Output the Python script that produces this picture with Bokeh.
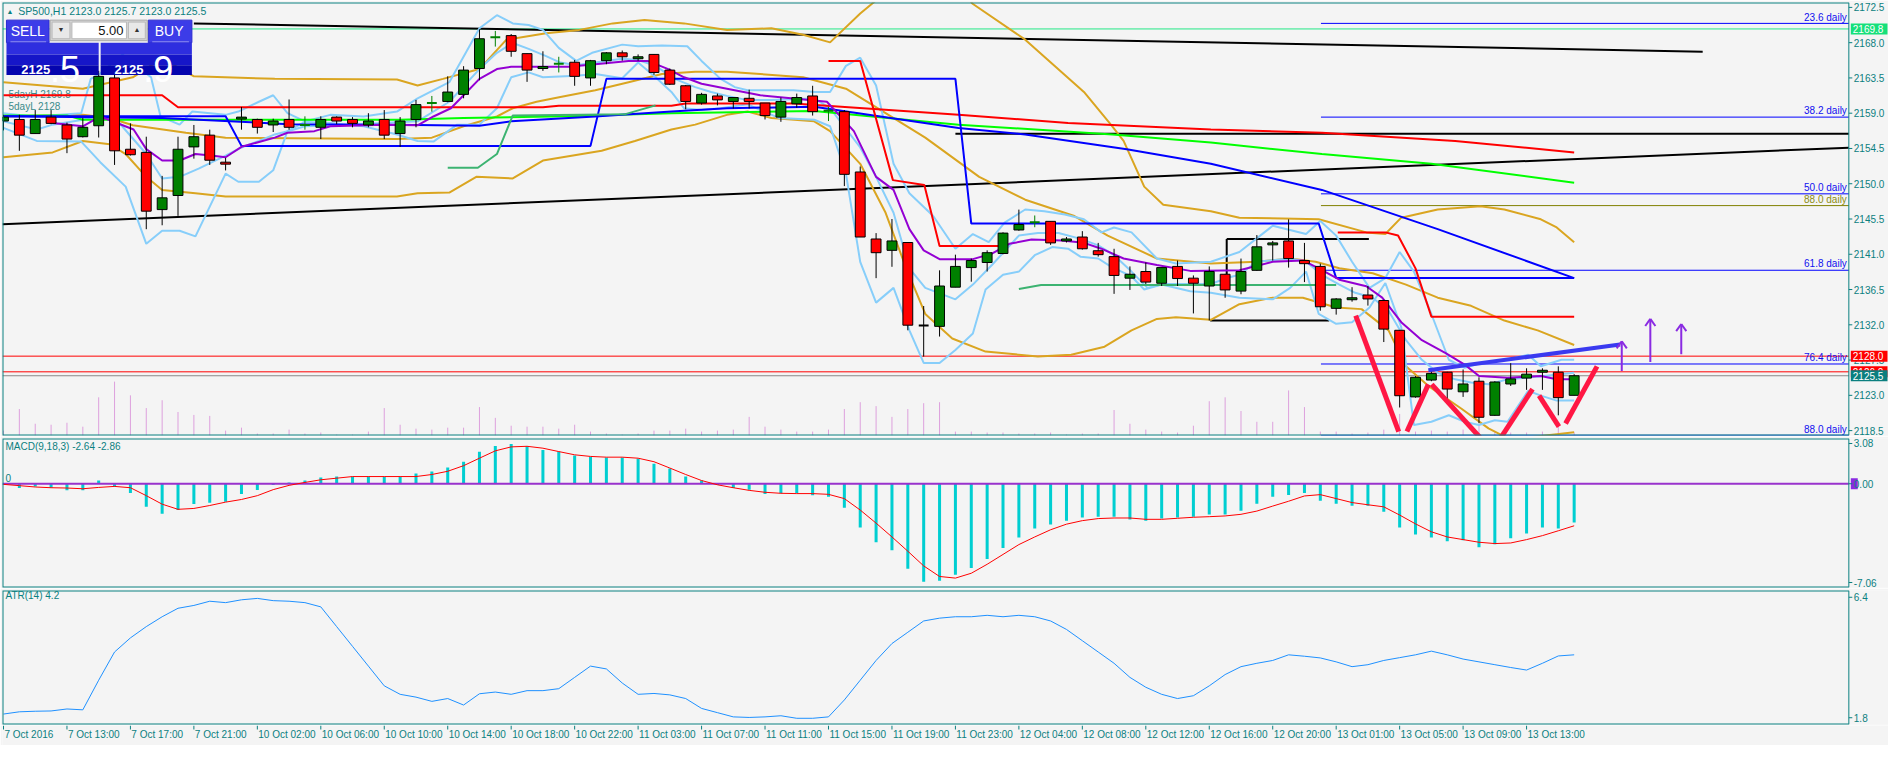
import numpy as np
from bokeh.plotting import figure
from bokeh.layouts import column
from bokeh.models import Range1d, BoxAnnotation, Label
from bokeh.core.properties import value
from bokeh.embed import file_html
from bokeh.resources import INLINE

# ------------------------------------------------------------------ data
tick_labels = ["7 Oct 2016", "7 Oct 13:00", "7 Oct 17:00", "7 Oct 21:00", "10 Oct 02:00",
               "10 Oct 06:00", "10 Oct 10:00", "10 Oct 14:00", "10 Oct 18:00", "10 Oct 22:00",
               "11 Oct 03:00", "11 Oct 07:00", "11 Oct 11:00", "11 Oct 15:00", "11 Oct 19:00",
               "11 Oct 23:00", "12 Oct 04:00", "12 Oct 08:00", "12 Oct 12:00", "12 Oct 16:00",
               "12 Oct 20:00", "13 Oct 01:00", "13 Oct 05:00", "13 Oct 09:00", "13 Oct 13:00"]

price_ticks = [2118.5, 2123.0, 2127.5, 2132.0, 2136.5, 2141.0, 2145.5, 2150.0, 2154.5, 2159.0,
               2163.5, 2168.0, 2172.5]
macd_ticks = [-6.72, 0.0, 2.74]
macd_tick_labels = ["-7.06", "0.00", "3.08"]
atr_ticks = [1.97, 6.24]
atr_tick_labels = ["1.8", "6.4"]

open_ = [2158.0, 2158.2, 2156.4, 2158.5, 2157.5, 2156.0, 2157.4, 2163.5, 2154.4, 2154.0,
         2146.7, 2148.5, 2154.7, 2156.2, 2152.75, 2158.25, 2158.2, 2157.5, 2158.2, 2157.5,
         2157.2, 2158.5, 2158.2, 2157.5, 2158.2, 2156.4, 2158.2, 2160.3, 2160.5, 2161.4,
         2164.7, 2168.7, 2168.9, 2166.6, 2164.7, 2165.3, 2165.5, 2163.5, 2165.7, 2166.7,
         2165.95, 2166.5, 2164.5, 2162.5, 2160.3, 2161.2, 2160.5, 2160.9, 2160.3, 2158.5,
         2160.2, 2161.2, 2159.3, 2159.2, 2151.5, 2142.95, 2141.5, 2142.5, 2131.9, 2131.8,
         2136.8, 2139.3, 2139.95, 2141.1, 2144.1, 2145.1, 2145.2, 2142.7, 2143.2, 2141.45,
         2140.7, 2137.95, 2138.8, 2137.3, 2139.45, 2137.95, 2136.95, 2138.45, 2136.3, 2138.95,
         2142.2, 2142.7, 2140.2, 2139.45, 2134.1, 2135.2, 2135.8, 2135.1, 2131.3, 2122.8,
         2124.95, 2125.95, 2123.45, 2124.8, 2120.45, 2124.45, 2125.2, 2125.95, 2125.95, 2123.0]
close_ = [2158.5, 2156.2, 2158.2, 2157.7, 2155.7, 2157.2, 2163.7, 2154.2, 2153.7, 2146.5,
          2148.2, 2154.4, 2156.0, 2153.0, 2152.5, 2158.5, 2157.2, 2158.0, 2157.2, 2157.5,
          2158.2, 2158.0, 2157.7, 2158.0, 2156.2, 2158.0, 2160.1, 2160.3, 2161.7, 2164.5,
          2168.5, 2168.7, 2166.9, 2164.5, 2164.95, 2165.3, 2163.7, 2165.7, 2166.7, 2166.2,
          2166.2, 2164.2, 2162.7, 2160.5, 2161.4, 2160.7, 2161.0, 2160.5, 2158.7, 2160.5,
          2161.0, 2159.2, 2159.3, 2151.2, 2143.2, 2141.2, 2142.7, 2131.95, 2131.9, 2136.95,
          2139.45, 2140.2, 2141.2, 2143.7, 2144.8, 2145.1, 2142.45, 2142.95, 2141.7, 2140.95,
          2138.3, 2138.45, 2137.45, 2139.3, 2137.9, 2137.3, 2138.8, 2136.45, 2138.8, 2141.95,
          2142.45, 2140.45, 2139.8, 2134.3, 2135.3, 2135.45, 2135.3, 2131.45, 2122.95, 2125.3,
          2125.8, 2123.8, 2124.45, 2120.2, 2124.7, 2125.1, 2125.7, 2126.2, 2122.7, 2125.5]
high_ = [2158.8, 2158.8, 2159.4, 2159.4, 2157.8, 2158.4, 2164.4, 2164.2, 2157.7, 2156.0,
         2151.0, 2156.0, 2157.5, 2156.9, 2153.3, 2159.8, 2158.3, 2158.3, 2160.75, 2158.6,
         2158.6, 2158.6, 2158.5, 2159.0, 2159.4, 2158.5, 2160.7, 2161.2, 2163.7, 2165.0,
         2169.7, 2169.5, 2169.1, 2166.6, 2166.9, 2166.2, 2165.8, 2165.8, 2166.8, 2167.0,
         2166.5, 2166.5, 2164.7, 2162.6, 2161.6, 2161.5, 2161.0, 2162.0, 2160.3, 2161.0,
         2161.5, 2162.5, 2159.8, 2159.4, 2152.2, 2143.7, 2145.5, 2142.5, 2134.4, 2138.95,
         2140.95, 2140.45, 2141.5, 2143.8, 2146.7, 2145.95, 2145.2, 2143.2, 2143.95, 2142.45,
         2141.7, 2139.45, 2139.95, 2139.3, 2140.2, 2138.3, 2139.45, 2138.5, 2140.45, 2143.45,
         2142.7, 2145.45, 2142.45, 2139.8, 2135.4, 2136.8, 2136.95, 2135.2, 2131.3, 2125.45,
         2126.3, 2126.0, 2126.3, 2125.3, 2124.8, 2127.1, 2126.45, 2126.45, 2126.7, 2125.7]
low_ = [2156.8, 2154.2, 2156.4, 2157.6, 2153.9, 2155.9, 2155.9, 2152.4, 2153.6, 2144.2,
        2144.7, 2145.9, 2153.2, 2152.4, 2151.7, 2156.9, 2156.4, 2156.6, 2156.9, 2156.9,
        2155.7, 2157.6, 2157.2, 2157.2, 2155.7, 2154.7, 2157.2, 2159.2, 2160.4, 2160.9,
        2163.2, 2167.5, 2166.2, 2163.0, 2164.4, 2164.2, 2162.5, 2162.5, 2165.25, 2165.7,
        2165.7, 2163.9, 2162.6, 2159.5, 2160.1, 2160.0, 2159.6, 2159.6, 2158.2, 2157.9,
        2159.7, 2158.7, 2158.0, 2149.7, 2143.2, 2137.95, 2139.4, 2131.3, 2127.95, 2130.5,
        2136.8, 2137.5, 2138.8, 2141.0, 2144.0, 2144.45, 2142.2, 2142.5, 2141.6, 2140.7,
        2135.95, 2136.45, 2137.2, 2136.95, 2136.95, 2133.45, 2132.55, 2135.45, 2135.9, 2138.9,
        2140.2, 2139.3, 2137.45, 2133.8, 2133.3, 2134.95, 2134.45, 2129.8, 2121.45, 2122.7,
        2124.8, 2122.45, 2122.8, 2119.45, 2120.4, 2124.2, 2123.7, 2123.7, 2120.45, 2123.0]
cross_bars = [19, 27, 31, 35, 52, 65]

volume = [500, 2700, 1200, 1100, 1300, 900, 3900, 5500, 4100, 2800,
          3600, 2400, 2100, 2000, 500, 800, 200, 200, 600, 200,
          300, 100, 100, 400, 2800, 1100, 700, 600, 800, 800,
          2900, 1800, 1000, 900, 900, 700, 1100, 400, 200, 100,
          200, 500, 500, 700, 400, 500, 600, 1900, 900, 600,
          400, 400, 600, 2700, 3400, 3000, 1900, 2700, 3300, 3400,
          400, 400, 300, 300, 200, 200, 300, 100, 200, 200,
          2600, 1200, 600, 400, 300, 1000, 3500, 3900, 2500, 1400,
          1400, 4600, 2900, 400, 400, 200, 300, 600, 2200, 400,
          500, 400, 600, 1200, 400, 300, 300, 400, 1000, 300]

macd_hist = [-0.07, -0.29, -0.18, -0.27, -0.45, -0.45, 0.22, -0.22, -0.63, -1.57,
             -2.04, -1.79, -1.37, -1.30, -1.23, -0.69, -0.43, -0.09, 0.09, 0.22,
             0.43, 0.49, 0.49, 0.51, 0.47, 0.47, 0.69, 0.83, 1.10, 1.50,
             2.17, 2.57, 2.71, 2.55, 2.30, 2.17, 1.92, 1.83, 1.79, 1.79,
             1.70, 1.36, 1.03, 0.49, 0.22, -0.09, -0.29, -0.40, -0.69, -0.65,
             -0.63, -0.78, -0.89, -1.63, -2.98, -3.98, -4.52, -5.79, -6.67, -6.60,
             -6.20, -5.73, -5.12, -4.38, -3.65, -3.04, -2.77, -2.51, -2.30, -2.24,
             -2.24, -2.44, -2.51, -2.37, -2.30, -2.24, -2.10, -2.10, -1.83, -1.36,
             -0.89, -0.76, -0.63, -1.16, -1.36, -1.50, -1.50, -1.90, -2.98, -3.45,
             -3.65, -3.91, -3.85, -4.32, -4.12, -3.71, -3.38, -2.98, -3.04, -2.64]
macd_signal = [-0.04, -0.13, -0.22, -0.27, -0.29, -0.34, -0.25, -0.18, -0.27, -0.81,
               -1.39, -1.74, -1.68, -1.48, -1.25, -1.07, -0.81, -0.40, -0.11, 0.09,
               0.27, 0.38, 0.49, 0.49, 0.49, 0.49, 0.49, 0.63, 0.85, 1.23,
               1.74, 2.24, 2.51, 2.55, 2.42, 2.19, 1.97, 1.86, 1.81, 1.81,
               1.74, 1.50, 1.07, 0.63, 0.22, -0.07, -0.27, -0.45, -0.58, -0.65,
               -0.67, -0.67, -0.72, -1.01, -1.79, -2.68, -3.62, -4.59, -5.59, -6.31,
               -6.42, -6.09, -5.48, -4.81, -4.14, -3.62, -3.13, -2.75, -2.51, -2.37,
               -2.33, -2.33, -2.42, -2.42, -2.35, -2.28, -2.24, -2.19, -2.08, -1.86,
               -1.52, -1.19, -0.83, -0.74, -1.01, -1.28, -1.43, -1.57, -2.13, -2.73,
               -3.27, -3.62, -3.80, -3.98, -4.07, -4.03, -3.80, -3.53, -3.20, -2.86]
atr = [2.10, 2.18, 2.20, 2.21, 2.28, 2.25, 3.30, 4.30, 4.80, 5.20,
       5.55, 5.85, 5.95, 6.10, 6.05, 6.15, 6.20, 6.12, 6.10, 6.05,
       5.90, 5.20, 4.50, 3.80, 3.10, 2.80, 2.70, 2.55, 2.65, 2.42,
       2.82, 2.88, 2.80, 2.93, 2.93, 3.00, 3.40, 3.80, 3.70, 3.20,
       2.80, 2.83, 2.78, 2.65, 2.30, 2.15, 2.00, 1.98, 2.00, 2.04,
       1.95, 1.95, 2.00, 2.60, 3.30, 4.00, 4.60, 5.00, 5.40, 5.50,
       5.55, 5.55, 5.60, 5.55, 5.60, 5.55, 5.40, 5.10, 4.70, 4.30,
       3.90, 3.40, 3.05, 2.80, 2.65, 2.75, 3.10, 3.50, 3.78, 3.90,
       4.00, 4.20, 4.15, 4.09, 3.95, 3.78, 3.85, 4.00, 4.10, 4.20,
       4.33, 4.20, 4.05, 3.95, 3.85, 3.75, 3.66, 3.90, 4.16, 4.20]

# indicator lines (bar position, price)
purple_x = [3.1, 5.0, 6.1, 8.2, 9.0, 10.0, 11.1, 12.1, 13.2, 14.0, 15.0, 17.1, 17.9, 19.6, 20.6, 24.0, 26.1,
            27.1, 28.2, 29.0, 30.0, 31.1, 32.0, 35.6, 37.3, 39.4, 40.6, 41.9, 42.9, 44.0, 45.6, 47.7, 49.8,
            51.9, 53.6, 55.0, 56.1, 57.1, 58.0, 59.0, 61.1, 62.3, 63.4, 64.8, 66.7, 68.1, 69.2, 70.6, 72.7,
            74.8, 77.9, 80.0, 81.9, 82.9, 84.2, 85.9, 86.9, 88.1, 89.4, 90.9, 92.1, 93.0, 94.8, 96.9, 97.9, 99.0]
purple_y = [2157.75, 2157.33, 2158.58, 2156.92, 2154.42, 2152.96, 2152.96, 2153.79, 2153.58, 2153.38, 2154.71,
            2155.88, 2156.5, 2156.71, 2157.33, 2157.54, 2157.46, 2158.58, 2159.63, 2161.29, 2163.38, 2164.63,
            2164.92, 2164.92, 2165.25, 2165.67, 2165.67, 2164.63, 2163.58, 2162.75, 2162.13, 2161.29, 2160.88,
            2160.46, 2156.71, 2150.88, 2149.21, 2144.21, 2141.5, 2140.38, 2140.38, 2141.08, 2142.33, 2142.88,
            2142.75, 2142.46, 2141.71, 2140.46, 2139.63, 2138.88, 2138.96, 2140.04, 2140.21, 2139.21, 2137.75,
            2136.92, 2135.46, 2132.33, 2130.04, 2128.38, 2126.92, 2125.46, 2125.25, 2125.46, 2125.04, 2125.04]
ma_blue_x = [0, 10, 18, 26, 30, 32, 37.3, 42.1, 45.6, 51.1, 60.2, 64.4, 70.8, 76.1, 83.1, 90.4, 99]
ma_blue_y = [2158.6, 2158.4, 2157.6, 2157.5, 2157.4, 2157.96, 2158.58, 2159.21, 2159.63, 2159.83, 2157.1,
             2156.29, 2154.4, 2152.54, 2149.21, 2144.21, 2137.96]
step_blue_x = [0, 14.0, 15.0, 37.0, 38.0, 60.0, 61.0, 82.9, 84.0, 99.0]
step_blue_y = [2158.6, 2158.6, 2154.83, 2154.83, 2163.38, 2163.38, 2144.92, 2144.92, 2137.96, 2137.96]
red_ma_x = [0, 10.0, 11.0, 34.0, 35.0, 42.1, 43.0, 49.8, 60.2, 67.1, 76.1, 83.1, 91.5, 99.0]
red_ma_y = [2161.29, 2161.29, 2159.75, 2159.75, 2159.96, 2159.96, 2160.25, 2160.25, 2158.79, 2157.75,
            2156.92, 2156.5, 2155.46, 2154.0]
green_x = [0, 4.0, 5.0, 25.0, 29.0, 35.5, 42.1, 51.1, 60.2, 69.9, 76.1, 83.1, 90.0, 99.0]
green_y = [2158.71, 2158.71, 2158.17, 2158.17, 2158.38, 2158.6, 2159.0, 2159.29, 2157.54, 2156.29,
           2155.25, 2153.79, 2152.54, 2150.13]
bb_up_x = [0, 5.0, 8.15, 10.0, 12.0, 17.1, 24.8, 26.1, 27.7, 30.0, 31.7, 34.2, 36.3, 38.4, 40.4, 42.9, 45.6,
           48.4, 50.4, 52.1, 54.0, 55.0, 56.5, 58.0, 59.5, 61.06, 64.4, 68.1, 69.8, 70.6, 71.9, 73.1, 76.1,
           77.9, 82.9, 85.9, 87.1, 88.1, 90.4, 93.1, 94.6, 96.9, 97.9, 99.0]
bb_up_y = [2162.96, 2162.13, 2163.58, 2166.0, 2163.71, 2163.38, 2163.29, 2162.54, 2163.38, 2164.63, 2168.38,
           2169.21, 2169.63, 2170.46, 2170.88, 2170.46, 2169.63, 2169.83, 2169.0, 2168.04, 2171.71, 2173.4,
           2178.0, 2180.0, 2177.5, 2173.0, 2168.38, 2161.71, 2157.54, 2155.46, 2149.63, 2147.33, 2146.5,
           2145.67, 2145.46, 2143.79, 2143.58, 2145.67, 2146.71, 2147.13, 2146.71, 2145.46, 2144.42, 2142.54]
bb_mid_x = [0, 5.0, 6.7, 8.15, 11.5, 14.0, 24.8, 27.0, 29.0, 31.1, 32.1, 33.6, 35.1, 37.3, 39.4, 41.5, 43.6,
            45.6, 47.7, 50.4, 53.1, 58.1, 61.5, 64.4, 67.5, 69.6, 72.7, 76.1, 79.0, 81.1, 82.7, 84.2, 86.3,
            88.4, 90.4, 92.5, 94.6, 96.7, 99.0]
bb_mid_y = [2158.58, 2158.79, 2158.38, 2157.46, 2156.5, 2155.88, 2155.7, 2155.88, 2157.33, 2158.58, 2159.63,
            2160.46, 2161.08, 2161.92, 2162.96, 2164.0, 2164.29, 2164.29, 2164.0, 2163.58, 2162.13, 2155.88,
            2150.88, 2147.96, 2145.88, 2143.38, 2140.46, 2139.83, 2140.04, 2140.46, 2140.04, 2139.21, 2138.58,
            2137.13, 2135.46, 2134.42, 2132.54, 2131.29, 2129.42]
bb_lo_x = [0, 3.1, 5.0, 6.7, 7.7, 9.0, 10.0, 12.1, 14.0, 24.8, 26.1, 28.1, 29.8, 32.1, 34.0, 37.7, 39.8, 42.1,
           43.6, 45.6, 46.9, 48.4, 51.1, 52.1, 54.0, 55.6, 56.9, 58.1, 59.8, 61.9, 65.2, 67.3, 69.4, 71.1,
           72.7, 73.9, 76.1, 77.9, 80.0, 81.9, 84.0, 85.6, 87.3, 88.4, 89.8, 91.9, 93.6, 94.8, 96.0, 99.0]
bb_lo_y = [2153.38, 2154.0, 2155.46, 2155.04, 2153.79, 2150.88, 2149.21, 2148.79, 2148.38, 2148.38, 2148.79,
           2148.88, 2150.88, 2150.67, 2152.96, 2154.21, 2155.46, 2156.92, 2157.54, 2158.79, 2159.21, 2158.38,
           2157.96, 2156.71, 2152.54, 2146.29, 2139.21, 2133.38, 2130.25, 2128.58, 2127.96, 2128.17, 2129.21,
           2131.29, 2132.75, 2132.96, 2132.63, 2134.63, 2135.46, 2135.46, 2134.21, 2134.0, 2131.29, 2126.71,
           2124.21, 2121.29, 2118.79, 2117.54, 2117.6, 2118.3]
env_up_x = [0, 1.9, 4.9, 5.5, 6.06, 7.5, 9.3, 9.9, 11.1, 11.9, 14.0, 14.8, 16.1, 17.0, 17.9, 19.0, 20.6, 22.7,
            24.8, 26.1, 28.1, 30.0, 31.1, 32.1, 33.1, 34.0, 35.0, 36.1, 37.1, 39.0, 40.0, 41.5, 43.1, 44.0,
            45.2, 46.1, 46.9, 49.8, 51.1, 52.1, 53.1, 54.0, 55.0, 56.1, 57.1, 58.6, 60.0, 61.1, 62.1, 63.1,
            64.4, 65.6, 66.9, 68.1, 69.2, 70.0, 71.1, 72.7, 73.9, 76.1, 77.9, 80.0, 82.1, 83.0, 84.0, 85.0,
            86.1, 87.1, 88.0, 88.9, 90.0, 91.1, 92.1, 93.1, 94.8, 96.1, 96.9, 98.2, 99.0]
env_up_y = [2159.0, 2158.58, 2159.0, 2163.38, 2164.0, 2166.5, 2163.58, 2158.58, 2157.54, 2159.21, 2158.79,
            2159.21, 2160.46, 2161.29, 2159.0, 2157.96, 2158.79, 2158.58, 2159.21, 2160.88, 2162.96, 2169.83,
            2171.5, 2170.46, 2170.25, 2169.63, 2167.33, 2165.67, 2166.71, 2167.75, 2167.54, 2167.63, 2167.54,
            2165.67, 2163.38, 2162.33, 2161.92, 2161.92, 2161.71, 2161.71, 2165.04, 2166.08, 2162.54, 2152.54,
            2148.79, 2145.88, 2141.71, 2143.58, 2142.54, 2145.04, 2146.71, 2146.5, 2146.08, 2145.46, 2143.79,
            2144.42, 2143.79, 2140.46, 2139.83, 2140.04, 2141.29, 2144.63, 2143.58, 2145.25, 2143.38, 2140.04,
            2136.71, 2137.96, 2141.29, 2138.79, 2133.38, 2127.54, 2126.5, 2127.13, 2127.54, 2128.17, 2126.71,
            2127.54, 2127.54]
env_mid_x = [0, 2.1, 3.1, 5.0, 6.1, 7.3, 9.0, 10.0, 11.1, 12.3, 14.0, 15.0, 16.1, 17.1, 18.1, 19.0, 20.6, 22.7,
             26.1, 28.1, 30.0, 31.1, 32.1, 33.1, 34.2, 35.1, 36.1, 37.3, 39.0, 40.0, 41.1, 42.3, 43.6, 44.6,
             45.6, 46.9, 48.4, 51.1, 52.1, 54.0, 55.0, 56.1, 57.1, 58.1, 60.0, 61.1, 62.3, 64.0, 65.2, 66.5,
             67.9, 69.0, 70.0, 71.1, 72.1, 73.1, 76.1, 77.1, 77.9, 79.0, 81.1, 82.1, 83.1, 84.2, 85.2, 86.3,
             87.3, 88.4, 89.4, 90.4, 91.5, 92.5, 93.6, 94.8, 97.1, 99.0]
env_mid_y = [2157.96, 2156.92, 2157.54, 2158.17, 2158.79, 2157.75, 2153.79, 2150.67, 2150.88, 2151.92, 2153.58,
             2154.63, 2155.46, 2156.29, 2156.79, 2157.33, 2157.42, 2157.63, 2157.96, 2160.46, 2164.63, 2166.71,
             2167.96, 2167.21, 2166.29, 2165.46, 2165.13, 2165.46, 2165.96, 2165.79, 2165.04, 2163.38, 2162.33,
             2161.71, 2161.21, 2160.67, 2160.67, 2160.88, 2159.63, 2154.63, 2150.88, 2146.29, 2139.21, 2136.71,
             2135.25, 2137.13, 2139.63, 2143.38, 2143.71, 2143.71, 2142.96, 2142.13, 2140.88, 2138.79, 2136.71,
             2137.21, 2137.21, 2137.96, 2138.38, 2140.04, 2140.46, 2140.04, 2138.38, 2137.13, 2136.08, 2135.46,
             2133.79, 2130.04, 2127.54, 2125.88, 2125.04, 2124.63, 2124.42, 2125.04, 2125.46, 2125.88]
env_lo_x = [0, 2.1, 4.9, 6.1, 7.7, 9.0, 10.0, 11.1, 12.1, 14.0, 14.8, 16.1, 17.0, 17.9, 19.0, 20.6, 22.7, 24.8,
            26.1, 27.1, 28.6, 30.0, 31.1, 32.0, 33.1, 34.0, 36.1, 37.3, 39.0, 40.0, 41.1, 42.1, 42.9, 44.0,
            45.2, 46.9, 47.7, 48.9, 51.1, 52.1, 53.1, 54.0, 55.0, 56.1, 57.1, 58.0, 59.0, 60.0, 61.1, 61.9,
            63.0, 64.0, 65.0, 66.1, 67.1, 67.9, 69.0, 69.8, 71.1, 71.9, 73.0, 74.8, 76.1, 77.9, 80.0, 81.1,
            82.1, 82.9, 84.0, 85.0, 86.1, 87.1, 88.1, 88.9, 90.0, 91.1, 92.1, 93.0, 94.0, 94.8, 96.1, 96.9,
            97.9, 99.0]
env_lo_y = [2157.13, 2155.46, 2155.38, 2152.75, 2149.63, 2142.33, 2144.0, 2144.0, 2143.29, 2151.29, 2150.25,
            2150.25, 2151.71, 2156.71, 2157.88, 2157.75, 2157.33, 2156.29, 2155.46, 2155.38, 2157.54, 2157.54,
            2159.63, 2163.58, 2164.21, 2163.58, 2163.79, 2164.0, 2163.46, 2165.46, 2163.58, 2161.71, 2159.63,
            2159.42, 2159.63, 2160.13, 2159.42, 2158.38, 2158.17, 2157.33, 2151.29, 2140.04, 2134.83, 2136.71,
            2131.29, 2127.13, 2127.13, 2128.79, 2130.88, 2136.5, 2138.38, 2138.79, 2140.88, 2141.92, 2141.71,
            2140.67, 2140.46, 2139.42, 2138.17, 2136.5, 2137.13, 2136.29, 2136.08, 2135.46, 2135.25, 2136.71,
            2138.79, 2133.38, 2132.13, 2132.33, 2134.21, 2137.33, 2131.71, 2119.21, 2119.63, 2120.46, 2119.63,
            2119.21, 2119.83, 2119.63, 2123.58, 2122.96, 2122.33, 2122.33]
seagreen1_x = [28.0, 29.9, 31.1, 32.1, 39.2, 41.1]
seagreen1_y = [2152.04, 2152.04, 2153.79, 2158.71, 2158.88, 2160.0]
seagreen2_x = [64.0, 65.4, 84.0]
seagreen2_y = [2136.58, 2137.08, 2137.08]
redstep1_x = [52.0, 54.0, 56.06, 58.04, 59.0, 63.1]
redstep1_y = [2165.67, 2165.67, 2150.46, 2149.83, 2142.04, 2142.04]
redstep2_x = [84.1, 87.1, 87.9, 89.0, 90.0, 99.0]
redstep2_y = [2143.79, 2143.79, 2143.4, 2139.2, 2133.04, 2133.04]

# drawn objects
trend_down_x = [12.0, 107.1]
trend_down_y = [2170.46, 2166.85]
trend_up_y = [2144.83, 2154.6]          # from left edge to the price scale
flat_black_x0, flat_black_y = 60.0, 2156.38
box_top = ([77.1, 86.06], 2142.96)
box_bottom = ([76.06, 83.56], 2132.54)
box_vert = (77.1, [2142.96, 2138.46])
red_hlines = [2128.0, 2126.0]
bid = 2125.5
green_hline = 2169.75
fib_start = 83.04
fib_levels = [2170.46, 2158.5, 2148.71, 2138.96, 2127.0, 2117.9]
fib_names = ["23.6 daily", "38.2 daily", "50.0 daily", "61.8 daily", "76.4 daily", "88.0 daily"]
olive_level = 2147.21
w_x0 = [85.23, 88.46, 90.02, 93.9, 96.79, 98.46]
w_y0 = [2133.16, 2118.375, 2124.4, 2116.1, 2122.96, 2119.4]
w_x1 = [87.94, 89.81, 93.75, 96.375, 98.04, 100.44]
w_y1 = [2118.375, 2124.4, 2116.1, 2123.8, 2119.0, 2126.7]
blue_trend_x = [89.81, 101.9]
blue_trend_y = [2126.2, 2129.5]
arrow_x = [102.0, 103.8, 105.75]
arrow_y0 = [2126.1, 2127.25, 2128.25]
arrow_y1 = [2129.9, 2132.75, 2132.1]

# ------------------------------------------------------------------ styling
BG = "#F4F4F4"
TEAL = "#0B8080"
FONT = "Liberation Sans"
W = 1888


def bx(px):  # reference pixel column -> bar position (for decorations / scale)
    return (px - 3.0) / 16.0


def py(px):  # reference pixel row -> price (for decorations)
    return 2172.5 - (px - 7.0) / 8.0


x_range = Range1d(bx(2), bx(1904))
XS = x_range.start
AX = bx(1864)          # position of the price scale line


def make(h, yr, top=2, bottom=1):
    f = figure(width=W, height=h, x_range=x_range, y_range=yr, output_backend="svg",
               toolbar_location=None, x_axis_location=None, y_axis_location=None,
               min_border_left=2, min_border_right=0, min_border_top=top, min_border_bottom=bottom)
    f.background_fill_color = BG
    f.border_fill_color = BG
    f.outline_line_color = None
    f.grid.visible = False
    return f


def frame_and_scale(f, yr, ticks, labels):
    # panel border (left, top, bottom) and the price-scale line
    f.line([AX, XS, XS, AX], [yr.end, yr.end, yr.start, yr.start], line_color=TEAL, line_width=2)
    f.segment([AX], [yr.start], [AX], [yr.end], line_color=TEAL, line_width=1)
    n = len(ticks)
    f.segment([AX] * n, ticks, [bx(1867.5)] * n, ticks, line_color=TEAL, line_width=1)
    f.text(x=[bx(1869)] * n, y=ticks, text=labels, text_font=value(FONT), text_font_size="10px",
           text_color=TEAL, text_baseline="middle", text_align="left")


idx = np.arange(len(open_))
o = np.array(open_); c = np.array(close_); hi = np.array(high_); lo = np.array(low_)

# ------------------------------------------------------------------ price panel
pyr = Range1d(py(444), py(2))
p = make(436, pyr)
p.extra_y_ranges = {"vol": Range1d(0, 44200)}

p.text(x=[bx(8), bx(8)], y=[py(96), py(108)], text=["5dayH 2169.8", "5dayL 2128"],
       text_font=value(FONT), text_font_size="10px", text_color="#3A8A8A", text_baseline="middle")

hl = [red_hlines[0], red_hlines[1], bid, green_hline]
p.segment([XS] * 4, hl, [AX] * 4, hl, line_color=["#FF0000", "#FF0000", "#8A8A8A", "#22E887"], line_width=1)

p.segment(idx, 0, idx, volume, y_range_name="vol", line_color="#DDA0DD", line_width=1)

# fibonacci levels
p.segment([fib_start] * len(fib_levels), fib_levels, [AX] * len(fib_levels), fib_levels,
          line_color="#0000FF", line_width=1)
p.segment([fib_start], [olive_level], [AX], [olive_level], line_color="#808000", line_width=1)
p.text(x=[bx(1862)] * len(fib_levels), y=[v + 0.1 for v in fib_levels], text=fib_names,
       text_font=value(FONT), text_font_size="10px", text_color="#1010F0", text_align="right",
       text_baseline="bottom")
p.text(x=[bx(1862)], y=[olive_level + 0.1], text=["88.0 daily"], text_font=value(FONT),
       text_font_size="10px", text_color="#8C8C10", text_align="right", text_baseline="bottom")

# black trend lines and box
p.line(trend_down_x, trend_down_y, line_color="black", line_width=2)
p.line([XS, AX], trend_up_y, line_color="black", line_width=2)
p.line([flat_black_x0, AX], [flat_black_y, flat_black_y], line_color="black", line_width=2)
p.line(box_top[0], [box_top[1]] * 2, line_color="black", line_width=2)
p.line(box_bottom[0], [box_bottom[1]] * 2, line_color="black", line_width=2)
p.line([box_vert[0]] * 2, box_vert[1], line_color="black", line_width=2)

# indicators
for xs, ys, col in [(bb_up_x, bb_up_y, "#DAA520"), (bb_mid_x, bb_mid_y, "#DAA520"), (bb_lo_x, bb_lo_y, "#DAA520"),
                    (env_up_x, env_up_y, "#87CEFA"), (env_mid_x, env_mid_y, "#87CEFA"), (env_lo_x, env_lo_y, "#87CEFA"),
                    (green_x, green_y, "#00FF00"), (red_ma_x, red_ma_y, "#FF0000"),
                    (ma_blue_x, ma_blue_y, "#0000FF"), (step_blue_x, step_blue_y, "#0000FF"),
                    (seagreen1_x, seagreen1_y, "#3CB371"), (seagreen2_x, seagreen2_y, "#3CB371"),
                    (redstep1_x, redstep1_y, "#FF0000"), (redstep2_x, redstep2_y, "#FF0000"),
                    (purple_x, purple_y, "#9400D3")]:
    p.line(xs, ys, line_color=col, line_width=2)

# candles
cross = np.isin(idx, cross_bars)
wick_col = ["#008000" if k else "black" for k in cross]
p.segment(idx, hi, idx, lo, line_color=wick_col, line_width=1)
up = c > o
dn = c < o
eq = c == o
BW = 0.62
p.vbar(x=idx[up], width=BW, top=c[up], bottom=o[up], fill_color="#008000", line_color="black", line_width=1)
p.vbar(x=idx[dn], width=BW, top=o[dn], bottom=c[dn], fill_color="#FF0000", line_color="black", line_width=1)
eq_col = ["#008000" if k else "black" for k in cross[eq]]
p.segment(idx[eq] - BW / 2, o[eq], idx[eq] + BW / 2, o[eq], line_color=eq_col, line_width=2)

# hand-drawn objects
p.segment(w_x0, w_y0, w_x1, w_y1, line_color="#FF1744", line_width=5)
p.line(blue_trend_x, blue_trend_y, line_color="#3A3AF0", line_width=4)
ax_ = np.array(arrow_x); ay1 = np.array(arrow_y1)
p.segment(arrow_x, arrow_y0, arrow_x, arrow_y1, line_color="#8A2BE2", line_width=2)
p.segment(ax_ - 0.32, ay1 - 0.9, ax_, ay1, line_color="#8A2BE2", line_width=2)
p.segment(ax_ + 0.32, ay1 - 0.9, ax_, ay1, line_color="#8A2BE2", line_width=2)

# price scale and tags
frame_and_scale(p, pyr, price_ticks, ["%.1f" % t for t in price_ticks])
tag_lv = [green_hline, red_hlines[0], red_hlines[1], bid]
tag_tx = ["2169.8", "2128.0", "2126.0", "2125.5"]
tag_bg = ["#16E07A", "#FF0000", "#FF0000", "#0B7F7F"]
for lv, tx, bg in zip(tag_lv, tag_tx, tag_bg):
    p.quad(left=[bx(1866)], right=[bx(1903)], top=[lv + 0.7], bottom=[lv - 0.7], fill_color=bg, line_color=None)
    p.text(x=[bx(1868)], y=[lv], text=[tx], text_font=value(FONT), text_font_size="10px",
           text_color="white", text_baseline="middle", text_align="left")

# one-click trading panel (decoration)
def box(l, r, t, b, fill, line=None):
    p.add_layout(BoxAnnotation(left=bx(l), right=bx(r), top=py(t), bottom=py(b), fill_color=fill,
                               fill_alpha=1.0, line_color=line, line_alpha=1.0, line_width=1))

box(6, 49, 20, 43, "#3C3CE8", "#2A2AD0")
box(149, 193, 20, 43, "#3C3CE8", "#2A2AD0")
for l, r in [(6, 99), (101, 193)]:
    box(l, r, 43, 55, "#2E2EDF")
    box(l, r, 55, 66, "#1616C8")
    box(l, r, 66, 76, "#0505AE")
box(10, 46, 41.5, 42.5, "#8C8CF0")
box(153, 190, 41.5, 42.5, "#8C8CF0")
box(50, 148, 20, 41, "#D4D4D4", "#A8A8A8")
box(72, 127, 22, 39, "#FFFFFF", "#B8B8B8")
box(52, 70, 22, 39, "#E8E8E8", "#B8B8B8")
box(129, 146, 22, 39, "#E8E8E8", "#B8B8B8")
for txt, x, y, size, align, col in [
        ("SELL", 27.5, 31, "14px", "center", "white"),
        ("BUY", 170, 31, "14px", "center", "white"),
        ("5.00", 124, 30.5, "13px", "right", "#111111"),
        ("\u25BC", 61, 30, "7px", "center", "#333333"),
        ("\u25B2", 137.5, 30, "7px", "center", "#333333")]:
    p.add_layout(Label(x=bx(x), y=py(y), text=txt, text_font=FONT, text_font_size=size, text_align=align,
                       text_baseline="middle", text_color=col))
for txt, x, size, style in [("2125", 21, "13px", "bold"), (".5", 50, "36px", "normal"),
                            ("2125", 115, "13px", "bold"), (".9", 144, "36px", "normal")]:
    p.add_layout(Label(x=bx(x), y=py(70), text=txt, text_font=FONT, text_font_size=size,
                       text_baseline="alphabetic", text_color="white", text_font_style=style))

p.add_layout(Label(x=bx(6), y=py(11), text="\u25B2", text_font=FONT, text_font_size="7px",
                   text_baseline="middle", text_color=TEAL))
p.add_layout(Label(x=bx(18), y=py(11), text="SP500,H1  2123.0 2125.7 2123.0 2125.5", text_font=FONT,
                   text_font_size="10.5px", text_baseline="middle", text_color=TEAL))

# ------------------------------------------------------------------ MACD panel
myr = Range1d(-7.06, 3.08)
m = make(152, myr)
m.vbar(x=idx, width=0.19, top=macd_hist, bottom=0, fill_color="#00CED1", line_color=None)
m.segment([XS], [0], [AX], [0], line_color="#9932CC", line_width=2)
m.line(idx, macd_signal, line_color="#FF0000", line_width=1)
m.quad(left=[bx(1866)], right=[bx(1873)], top=[0.38], bottom=[-0.38], fill_color="#8A2BE2", line_color=None)
frame_and_scale(m, myr, macd_ticks, macd_tick_labels)
m.add_layout(Label(x=bx(5), y=2.55, text="MACD(9,18,3) -2.64 -2.86", text_font=FONT, text_font_size="10px",
                   text_baseline="middle", text_color=TEAL))
m.add_layout(Label(x=bx(5), y=0.4, text="0", text_font=FONT, text_font_size="10px",
                   text_baseline="middle", text_color=TEAL))

# ------------------------------------------------------------------ ATR panel
ayr = Range1d(1.73, 6.48)
a = make(137, ayr)
a.line(idx, atr, line_color="#1E90FF", line_width=1)
frame_and_scale(a, ayr, atr_ticks, atr_tick_labels)
a.add_layout(Label(x=bx(5), y=6.3, text="ATR(14) 4.2", text_font=FONT, text_font_size="10px",
                   text_baseline="middle", text_color=TEAL))

# ------------------------------------------------------------------ time axis strip
s = figure(width=W, height=20, x_range=x_range, y_range=Range1d(0, 20), output_backend="svg",
           toolbar_location=None, x_axis_location=None, y_axis_location=None,
           min_border_left=2, min_border_right=0, min_border_top=0, min_border_bottom=0)
s.background_fill_color = BG
s.border_fill_color = BG
s.outline_line_color = None
s.grid.visible = False
tick_x = np.arange(0, 4 * len(tick_labels), 4)
s.segment(tick_x, 20, tick_x, 16, line_color=TEAL, line_width=1)
s.text(x=tick_x + 0.06, y=[11.5] * len(tick_x), text=tick_labels, text_font=value(FONT),
       text_font_size="10px", text_color=TEAL, text_baseline="middle", text_align="left")

layout = column(p, m, a, s, spacing=0)
open("out.html", "w").write(file_html(layout, INLINE))
